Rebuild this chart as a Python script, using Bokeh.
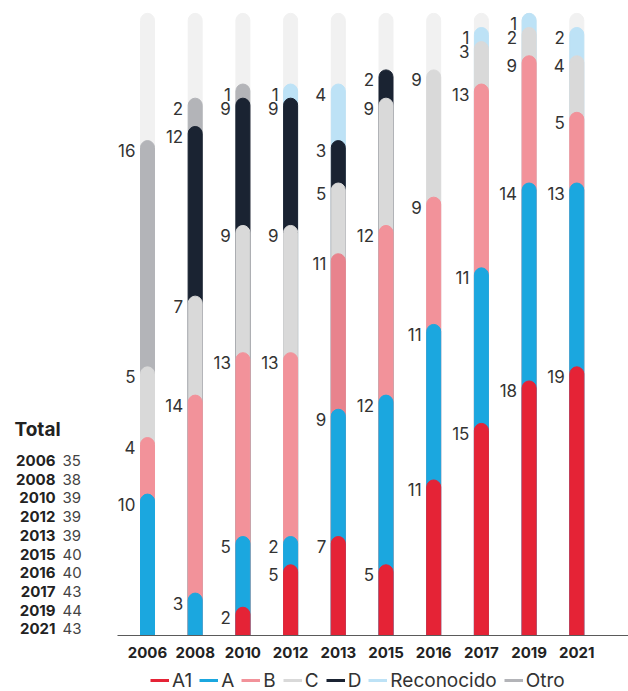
from bokeh.plotting import figure
from bokeh.models import ColumnDataSource, Range1d, Legend, LegendItem
from bokeh.core.properties import value
from bokeh.embed import file_html
from bokeh.resources import INLINE

# ---------------- data ----------------
years = ["2006", "2008", "2010", "2012", "2013", "2015", "2016", "2017", "2019", "2021"]
A1 = [0, 0, 2, 5, 7, 5, 11, 15, 18, 19]
A = [10, 3, 5, 2, 9, 12, 11, 11, 14, 13]
B = [4, 14, 13, 13, 11, 12, 9, 13, 9, 5]
C = [5, 7, 9, 9, 5, 9, 9, 3, 2, 4]
D = [0, 12, 9, 9, 3, 2, 0, 0, 0, 0]
Reconocido = [0, 0, 0, 1, 4, 0, 0, 1, 1, 2]
Otro = [16, 2, 1, 0, 0, 0, 0, 0, 0, 0]

series_names = ["A1", "A", "B", "C", "D", "Reconocido", "Otro"]
series_values = [A1, A, B, C, D, Reconocido, Otro]

# ---------------- styles ----------------
COLORS = {
    "A1": "#e52336",
    "A": "#1ba7df",
    "B": "#f2929a",
    "C": "#d9d9d9",
    "D": "#1a2332",
    "Reconocido": "#bde2f6",
    "Otro": "#b3b4b8",
}
B_2013_COLOR = "#e8838d"
TRACK = "#f1f1f1"
FONT = "Inter"

W, H = 628, 691
BASE_PY = 635          # canvas y of the zero line
PX_PER_Y = 14.14
FIRST_PX = 147         # canvas x of the first bar centre
PX_PER_X = 47.7
BAR_PX = 14

X0 = -FIRST_PX / PX_PER_X
Y0 = -(H - BASE_PY) / PX_PER_Y


def px_x(px):
    return X0 + px / PX_PER_X


def px_y(py):
    return (BASE_PY - py) / PX_PER_Y


p = figure(width=W, height=H, output_backend="svg", toolbar_location=None,
           x_range=Range1d(X0, X0 + W / PX_PER_X),
           y_range=Range1d(Y0, Y0 + H / PX_PER_Y),
           min_border=0, outline_line_color=None)
p.axis.visible = False
p.grid.visible = False
p.background_fill_color = "white"
p.border_fill_color = "white"

xs = list(range(len(years)))
bw = BAR_PX / PX_PER_X
totals = [sum(v[i] for v in series_values) for i in xs]
track_top = max(totals)

# background tracks
p.vbar(x=xs, bottom=0, top=[track_top] * len(xs), width=bw, color=TRACK,
       border_radius=(7, 7, 0, 0))

# cumulative tops
cum = []
run = [0] * len(xs)
for vals in series_values:
    run = [run[i] + vals[i] for i in xs]
    cum.append(list(run))

# draw from top series downward so lower segments overlap upper ones
for k in range(len(series_names) - 1, -1, -1):
    name = series_names[k]
    vals = series_values[k]
    sx, st, sc = [], [], []
    for i in xs:
        if vals[i] > 0:
            sx.append(i)
            st.append(cum[k][i])
            if name == "B" and years[i] == "2013":
                sc.append(B_2013_COLOR)
            else:
                sc.append(COLORS[name])
    src = ColumnDataSource(dict(x=sx, top=st, color=sc))
    p.vbar(x="x", bottom=0, top="top", width=bw, color="color", source=src,
           border_radius=(7, 7, 0, 0))

# segment labels
lx, ly, lt = [], [], []
for k, vals in enumerate(series_values):
    for i in xs:
        if vals[i] > 0:
            lx.append(i)
            ly.append(cum[k][i])
            lt.append(str(vals[i]))
p.text(x=lx, y=ly, text=lt, text_align="right", text_baseline="middle",
       x_offset=-12, y_offset=10, text_font=value(FONT), text_font_size="17px",
       text_color="#333333")

# zero line
p.segment(x0=[px_x(117)], x1=[px_x(W)], y0=[0], y1=[0], line_color="#5a5a5a",
          line_width=1.2)

# year labels under bars
p.text(x=xs, y=[0] * len(xs), text=years, text_align="center", text_baseline="middle",
       y_offset=17, text_font=value(FONT), text_font_size="15px",
       text_font_style="bold", text_color="#222222")

# totals table
p.text(x=[px_x(14)], y=[px_y(429)], text=["Total"], text_align="left",
       text_baseline="middle", text_font=value(FONT), text_font_size="19px",
       text_font_style="bold", text_color="#222222")
row_y = [px_y(460 + 18.7 * i) for i in xs]
p.text(x=[px_x(55)] * len(xs), y=row_y, text=years, text_align="right",
       text_baseline="middle", text_font=value(FONT), text_font_size="15px",
       text_font_style="bold", text_color="#222222")
p.text(x=[px_x(62)] * len(xs), y=row_y, text=[str(t) for t in totals],
       text_align="left", text_baseline="middle", text_font=value(FONT),
       text_font_size="15px", text_color="#444444")

# legend
items = []
nan = float("nan")
for name in series_names:
    r = p.line(x=[nan, nan], y=[nan, nan], line_color=COLORS[name], line_width=3)
    items.append(LegendItem(label=name, renderers=[r]))
legend = Legend(items=items, orientation="horizontal", location=(150, -3),
                glyph_width=19, glyph_height=28, label_height=20, label_width=0,
                label_standoff=3, spacing=7, padding=0, margin=0,
                border_line_alpha=0, background_fill_alpha=0,
                label_text_font=FONT, label_text_font_size="19px",
                label_text_color="#333333")
p.add_layout(legend)

open("out.html", "w").write(file_html(p, INLINE))
